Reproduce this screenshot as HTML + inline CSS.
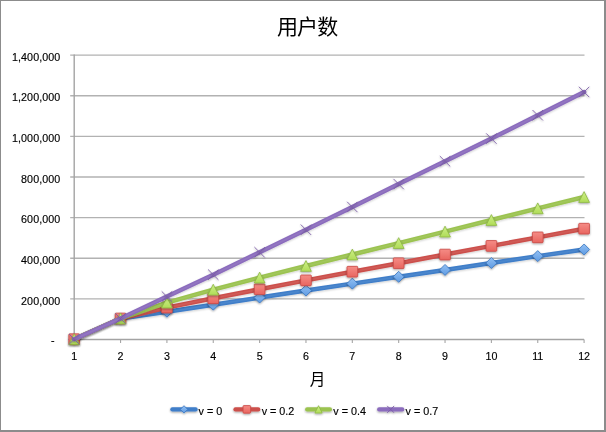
<!DOCTYPE html>
<html lang="zh"><head><meta charset="utf-8"><title>用户数</title>
<style>
html,body{margin:0;padding:0;background:#fff;}
body{width:606px;height:432px;overflow:hidden;}
svg{display:block}
text{font-family:"Liberation Sans", "Noto Sans CJK SC", sans-serif;fill:#000}
.ax{font-size:10.7px;stroke:#000;stroke-width:0.15px}
.lg{font-size:10.75px;stroke:#000;stroke-width:0.15px}
</style></head><body>
<svg width="606" height="432" viewBox="0 0 606 432">
<defs>
<filter id="sh" x="-40%" y="-40%" width="180%" height="200%"><feGaussianBlur in="SourceAlpha" stdDeviation="1"/><feOffset dx="0" dy="1.3"/><feComponentTransfer><feFuncA type="linear" slope="0.38"/></feComponentTransfer><feMerge><feMergeNode/><feMergeNode in="SourceGraphic"/></feMerge></filter>
<filter id="shl" x="-5%" y="-5%" width="110%" height="110%"><feGaussianBlur in="SourceAlpha" stdDeviation="0.8"/><feOffset dx="0" dy="1.1"/><feComponentTransfer><feFuncA type="linear" slope="0.2"/></feComponentTransfer><feMerge><feMergeNode/><feMergeNode in="SourceGraphic"/></feMerge></filter>
<linearGradient id="g0" x1="0" y1="0" x2="0" y2="1"><stop offset="0" stop-color="#92c0f4"/><stop offset="1" stop-color="#5f9be2"/></linearGradient>
<linearGradient id="g1" x1="0" y1="0" x2="0" y2="1"><stop offset="0" stop-color="#f58c86"/><stop offset="1" stop-color="#e8655f"/></linearGradient>
<linearGradient id="g2" x1="0" y1="0" x2="0" y2="1"><stop offset="0" stop-color="#cdef88"/><stop offset="1" stop-color="#b0dc58"/></linearGradient>
</defs>
<rect x="0" y="0" width="606" height="432" fill="#fff"/>

<rect x="0.5" y="0.5" width="605" height="431" fill="none" stroke="#8c8c8c" stroke-width="1"/>
<path d="M605 0V431H0" fill="none" stroke="#8c8c8c" stroke-width="2"/>
<text x="307.1" y="34.2" text-anchor="middle" style="font-size:21px;letter-spacing:-0.9px">用户数</text>
<line x1="70.2" y1="298.87" x2="584.5" y2="298.87" stroke="#b2b2b2" stroke-width="1.45"/>
<line x1="70.2" y1="258.24" x2="584.5" y2="258.24" stroke="#b2b2b2" stroke-width="1.45"/>
<line x1="70.2" y1="217.61" x2="584.5" y2="217.61" stroke="#b2b2b2" stroke-width="1.45"/>
<line x1="70.2" y1="176.99" x2="584.5" y2="176.99" stroke="#b2b2b2" stroke-width="1.45"/>
<line x1="70.2" y1="136.36" x2="584.5" y2="136.36" stroke="#b2b2b2" stroke-width="1.45"/>
<line x1="70.2" y1="95.73" x2="584.5" y2="95.73" stroke="#b2b2b2" stroke-width="1.45"/>
<line x1="70.2" y1="55.10" x2="584.5" y2="55.10" stroke="#b2b2b2" stroke-width="1.45"/>
<line x1="74.2" y1="54.6" x2="74.2" y2="340.0" stroke="#a3a3a3" stroke-width="1.4"/>
<line x1="70.2" y1="339.5" x2="584.1" y2="339.5" stroke="#a3a3a3" stroke-width="1.4"/>
<line x1="74.20" y1="339.5" x2="74.20" y2="343.1" stroke="#a6a6a6" stroke-width="1.1"/>
<text class="ax" x="74.20" y="359.8" text-anchor="middle">1</text>
<line x1="120.55" y1="339.5" x2="120.55" y2="343.1" stroke="#a6a6a6" stroke-width="1.1"/>
<text class="ax" x="120.55" y="359.8" text-anchor="middle">2</text>
<line x1="166.91" y1="339.5" x2="166.91" y2="343.1" stroke="#a6a6a6" stroke-width="1.1"/>
<text class="ax" x="166.91" y="359.8" text-anchor="middle">3</text>
<line x1="213.26" y1="339.5" x2="213.26" y2="343.1" stroke="#a6a6a6" stroke-width="1.1"/>
<text class="ax" x="213.26" y="359.8" text-anchor="middle">4</text>
<line x1="259.62" y1="339.5" x2="259.62" y2="343.1" stroke="#a6a6a6" stroke-width="1.1"/>
<text class="ax" x="259.62" y="359.8" text-anchor="middle">5</text>
<line x1="305.97" y1="339.5" x2="305.97" y2="343.1" stroke="#a6a6a6" stroke-width="1.1"/>
<text class="ax" x="305.97" y="359.8" text-anchor="middle">6</text>
<line x1="352.33" y1="339.5" x2="352.33" y2="343.1" stroke="#a6a6a6" stroke-width="1.1"/>
<text class="ax" x="352.33" y="359.8" text-anchor="middle">7</text>
<line x1="398.68" y1="339.5" x2="398.68" y2="343.1" stroke="#a6a6a6" stroke-width="1.1"/>
<text class="ax" x="398.68" y="359.8" text-anchor="middle">8</text>
<line x1="445.04" y1="339.5" x2="445.04" y2="343.1" stroke="#a6a6a6" stroke-width="1.1"/>
<text class="ax" x="445.04" y="359.8" text-anchor="middle">9</text>
<line x1="491.39" y1="339.5" x2="491.39" y2="343.1" stroke="#a6a6a6" stroke-width="1.1"/>
<text class="ax" x="491.39" y="359.8" text-anchor="middle">10</text>
<line x1="537.75" y1="339.5" x2="537.75" y2="343.1" stroke="#a6a6a6" stroke-width="1.1"/>
<text class="ax" x="537.75" y="359.8" text-anchor="middle">11</text>
<line x1="584.10" y1="339.5" x2="584.10" y2="343.1" stroke="#a6a6a6" stroke-width="1.1"/>
<text class="ax" x="584.10" y="359.8" text-anchor="middle">12</text>
<text class="ax" x="54.6" y="344.1" text-anchor="end">-</text>
<text class="ax" x="60.4" y="304.5" text-anchor="end" style="letter-spacing:0.1px">200,000</text>
<text class="ax" x="60.4" y="263.8" text-anchor="end" style="letter-spacing:0.1px">400,000</text>
<text class="ax" x="60.4" y="223.2" text-anchor="end" style="letter-spacing:0.1px">600,000</text>
<text class="ax" x="60.4" y="182.6" text-anchor="end" style="letter-spacing:0.1px">800,000</text>
<text class="ax" x="60.4" y="142.0" text-anchor="end" style="letter-spacing:0.1px">1,000,000</text>
<text class="ax" x="60.4" y="101.3" text-anchor="end" style="letter-spacing:0.1px">1,200,000</text>
<text class="ax" x="60.4" y="60.7" text-anchor="end" style="letter-spacing:0.1px">1,400,000</text>
<text x="317.6" y="385.3" text-anchor="middle" style="font-size:15.6px">月</text>
<g filter="url(#shl)">
<path d="M74.20 339.20L120.55 318.49L166.91 311.68L213.26 304.67L259.62 297.56L305.97 290.55L352.33 283.64L398.68 276.84L445.04 269.93L491.39 263.02L537.75 256.11L584.10 249.50" fill="none" stroke="#3f7ec9" stroke-width="4.5" stroke-linejoin="round" stroke-linecap="round"/>
<path d="M74.20 339.20L120.55 318.49L166.91 311.68L213.26 304.67L259.62 297.56L305.97 290.55L352.33 283.64L398.68 276.84L445.04 269.93L491.39 263.02L537.75 256.11L584.10 249.50" fill="none" stroke="#fff" stroke-opacity="0.07" stroke-width="1.6" stroke-linejoin="round" stroke-linecap="round"/>
</g>
<g filter="url(#sh)">
<path d="M74.20 333.70L79.70 339.20L74.20 344.70L68.70 339.20Z" fill="url(#g0)" stroke="#3a76c0" stroke-width="0.8"/>
<path d="M120.55 312.99L126.05 318.49L120.55 323.99L115.05 318.49Z" fill="url(#g0)" stroke="#3a76c0" stroke-width="0.8"/>
<path d="M166.91 306.18L172.41 311.68L166.91 317.18L161.41 311.68Z" fill="url(#g0)" stroke="#3a76c0" stroke-width="0.8"/>
<path d="M213.26 299.17L218.76 304.67L213.26 310.17L207.76 304.67Z" fill="url(#g0)" stroke="#3a76c0" stroke-width="0.8"/>
<path d="M259.62 292.06L265.12 297.56L259.62 303.06L254.12 297.56Z" fill="url(#g0)" stroke="#3a76c0" stroke-width="0.8"/>
<path d="M305.97 285.05L311.47 290.55L305.97 296.05L300.47 290.55Z" fill="url(#g0)" stroke="#3a76c0" stroke-width="0.8"/>
<path d="M352.33 278.14L357.83 283.64L352.33 289.14L346.83 283.64Z" fill="url(#g0)" stroke="#3a76c0" stroke-width="0.8"/>
<path d="M398.68 271.34L404.18 276.84L398.68 282.34L393.18 276.84Z" fill="url(#g0)" stroke="#3a76c0" stroke-width="0.8"/>
<path d="M445.04 264.43L450.54 269.93L445.04 275.43L439.54 269.93Z" fill="url(#g0)" stroke="#3a76c0" stroke-width="0.8"/>
<path d="M491.39 257.52L496.89 263.02L491.39 268.52L485.89 263.02Z" fill="url(#g0)" stroke="#3a76c0" stroke-width="0.8"/>
<path d="M537.75 250.61L543.25 256.11L537.75 261.61L532.25 256.11Z" fill="url(#g0)" stroke="#3a76c0" stroke-width="0.8"/>
<path d="M584.10 244.00L589.60 249.50L584.10 255.00L578.60 249.50Z" fill="url(#g0)" stroke="#3a76c0" stroke-width="0.8"/>
</g>
<g filter="url(#shl)">
<path d="M74.20 339.20L120.55 318.49L166.91 307.61L213.26 298.29L259.62 289.24L305.97 280.36L352.33 271.70L398.68 263.23L445.04 254.57L491.39 245.91L537.75 237.35L584.10 228.69" fill="none" stroke="#cc4f4b" stroke-width="4.5" stroke-linejoin="round" stroke-linecap="round"/>
<path d="M74.20 339.20L120.55 318.49L166.91 307.61L213.26 298.29L259.62 289.24L305.97 280.36L352.33 271.70L398.68 263.23L445.04 254.57L491.39 245.91L537.75 237.35L584.10 228.69" fill="none" stroke="#fff" stroke-opacity="0.07" stroke-width="1.6" stroke-linejoin="round" stroke-linecap="round"/>
</g>
<g filter="url(#sh)">
<rect x="68.85" y="333.85" width="10.70" height="10.70" rx="0.8" fill="url(#g1)" stroke="#c94844" stroke-width="0.8"/>
<rect x="115.20" y="313.14" width="10.70" height="10.70" rx="0.8" fill="url(#g1)" stroke="#c94844" stroke-width="0.8"/>
<rect x="161.56" y="302.26" width="10.70" height="10.70" rx="0.8" fill="url(#g1)" stroke="#c94844" stroke-width="0.8"/>
<rect x="207.91" y="292.94" width="10.70" height="10.70" rx="0.8" fill="url(#g1)" stroke="#c94844" stroke-width="0.8"/>
<rect x="254.27" y="283.89" width="10.70" height="10.70" rx="0.8" fill="url(#g1)" stroke="#c94844" stroke-width="0.8"/>
<rect x="300.62" y="275.01" width="10.70" height="10.70" rx="0.8" fill="url(#g1)" stroke="#c94844" stroke-width="0.8"/>
<rect x="346.98" y="266.35" width="10.70" height="10.70" rx="0.8" fill="url(#g1)" stroke="#c94844" stroke-width="0.8"/>
<rect x="393.33" y="257.88" width="10.70" height="10.70" rx="0.8" fill="url(#g1)" stroke="#c94844" stroke-width="0.8"/>
<rect x="439.69" y="249.22" width="10.70" height="10.70" rx="0.8" fill="url(#g1)" stroke="#c94844" stroke-width="0.8"/>
<rect x="486.04" y="240.56" width="10.70" height="10.70" rx="0.8" fill="url(#g1)" stroke="#c94844" stroke-width="0.8"/>
<rect x="532.40" y="232.00" width="10.70" height="10.70" rx="0.8" fill="url(#g1)" stroke="#c94844" stroke-width="0.8"/>
<rect x="578.75" y="223.34" width="10.70" height="10.70" rx="0.8" fill="url(#g1)" stroke="#c94844" stroke-width="0.8"/>
</g>
<g filter="url(#shl)">
<path d="M74.20 339.20L120.55 318.49L166.91 302.55L213.26 289.69L259.62 277.56L305.97 265.95L352.33 254.49L398.68 243.07L445.04 231.57L491.39 219.99L537.75 208.31L584.10 197.02" fill="none" stroke="#9bc350" stroke-width="4.5" stroke-linejoin="round" stroke-linecap="round"/>
<path d="M74.20 339.20L120.55 318.49L166.91 302.55L213.26 289.69L259.62 277.56L305.97 265.95L352.33 254.49L398.68 243.07L445.04 231.57L491.39 219.99L537.75 208.31L584.10 197.02" fill="none" stroke="#fff" stroke-opacity="0.07" stroke-width="1.6" stroke-linejoin="round" stroke-linecap="round"/>
</g>
<g filter="url(#sh)">
<path d="M74.20 333.80L79.60 344.60L68.80 344.60Z" fill="url(#g2)" stroke="#8db844" stroke-width="0.8"/>
<path d="M120.55 313.09L125.95 323.89L115.15 323.89Z" fill="url(#g2)" stroke="#8db844" stroke-width="0.8"/>
<path d="M166.91 297.15L172.31 307.95L161.51 307.95Z" fill="url(#g2)" stroke="#8db844" stroke-width="0.8"/>
<path d="M213.26 284.29L218.66 295.09L207.86 295.09Z" fill="url(#g2)" stroke="#8db844" stroke-width="0.8"/>
<path d="M259.62 272.16L265.02 282.96L254.22 282.96Z" fill="url(#g2)" stroke="#8db844" stroke-width="0.8"/>
<path d="M305.97 260.55L311.37 271.35L300.57 271.35Z" fill="url(#g2)" stroke="#8db844" stroke-width="0.8"/>
<path d="M352.33 249.09L357.73 259.89L346.93 259.89Z" fill="url(#g2)" stroke="#8db844" stroke-width="0.8"/>
<path d="M398.68 237.67L404.08 248.47L393.28 248.47Z" fill="url(#g2)" stroke="#8db844" stroke-width="0.8"/>
<path d="M445.04 226.17L450.44 236.97L439.64 236.97Z" fill="url(#g2)" stroke="#8db844" stroke-width="0.8"/>
<path d="M491.39 214.59L496.79 225.39L485.99 225.39Z" fill="url(#g2)" stroke="#8db844" stroke-width="0.8"/>
<path d="M537.75 202.91L543.15 213.71L532.35 213.71Z" fill="url(#g2)" stroke="#8db844" stroke-width="0.8"/>
<path d="M584.10 191.62L589.50 202.42L578.70 202.42Z" fill="url(#g2)" stroke="#8db844" stroke-width="0.8"/>
</g>
<g filter="url(#shl)">
<path d="M74.20 339.20L120.55 318.49L166.91 296.56L213.26 274.69L259.62 252.27L305.97 229.74L352.33 206.99L398.68 184.09L445.04 161.28L491.39 138.59L537.75 115.26L584.10 91.98" fill="none" stroke="#8b6cbd" stroke-width="4.5" stroke-linejoin="round" stroke-linecap="round"/>
<path d="M74.20 339.20L120.55 318.49L166.91 296.56L213.26 274.69L259.62 252.27L305.97 229.74L352.33 206.99L398.68 184.09L445.04 161.28L491.39 138.59L537.75 115.26L584.10 91.98" fill="none" stroke="#fff" stroke-opacity="0.07" stroke-width="1.6" stroke-linejoin="round" stroke-linecap="round"/>
</g>
<g filter="url(#sh)">
<path d="M69.00 334.00L79.40 344.40M79.40 334.00L69.00 344.40" fill="none" stroke="#7a5ca6" stroke-width="0.9"/>
<path d="M115.35 313.29L125.75 323.69M125.75 313.29L115.35 323.69" fill="none" stroke="#7a5ca6" stroke-width="0.9"/>
<path d="M161.71 291.36L172.11 301.76M172.11 291.36L161.71 301.76" fill="none" stroke="#7a5ca6" stroke-width="0.9"/>
<path d="M208.06 269.49L218.46 279.89M218.46 269.49L208.06 279.89" fill="none" stroke="#7a5ca6" stroke-width="0.9"/>
<path d="M254.42 247.07L264.82 257.47M264.82 247.07L254.42 257.47" fill="none" stroke="#7a5ca6" stroke-width="0.9"/>
<path d="M300.77 224.54L311.17 234.94M311.17 224.54L300.77 234.94" fill="none" stroke="#7a5ca6" stroke-width="0.9"/>
<path d="M347.13 201.79L357.53 212.19M357.53 201.79L347.13 212.19" fill="none" stroke="#7a5ca6" stroke-width="0.9"/>
<path d="M393.48 178.89L403.88 189.29M403.88 178.89L393.48 189.29" fill="none" stroke="#7a5ca6" stroke-width="0.9"/>
<path d="M439.84 156.08L450.24 166.48M450.24 156.08L439.84 166.48" fill="none" stroke="#7a5ca6" stroke-width="0.9"/>
<path d="M486.19 133.39L496.59 143.79M496.59 133.39L486.19 143.79" fill="none" stroke="#7a5ca6" stroke-width="0.9"/>
<path d="M532.55 110.06L542.95 120.46M542.95 110.06L532.55 120.46" fill="none" stroke="#7a5ca6" stroke-width="0.9"/>
<path d="M578.90 86.78L589.30 97.18M589.30 86.78L578.90 97.18" fill="none" stroke="#7a5ca6" stroke-width="0.9"/>
</g>
<g filter="url(#sh)"><line x1="172.4" y1="409.4" x2="195.6" y2="409.4" stroke="#3f7ec9" stroke-width="4.3" stroke-linecap="round"/>
<path d="M184.00 405.70L187.70 409.40L184.00 413.10L180.30 409.40Z" fill="url(#g0)" stroke="#3a76c0" stroke-width="0.8"/>
</g>
<text class="lg" x="198.6" y="414.5">v = 0</text>
<g filter="url(#sh)"><line x1="235.5" y1="409.4" x2="258.2" y2="409.4" stroke="#cc4f4b" stroke-width="4.3" stroke-linecap="round"/>
<rect x="243.05" y="405.60" width="7.60" height="7.60" rx="0.8" fill="url(#g1)" stroke="#c94844" stroke-width="0.8"/>
</g>
<text class="lg" x="261.7" y="414.5">v = 0.2</text>
<g filter="url(#sh)"><line x1="307.2" y1="409.4" x2="329.9" y2="409.4" stroke="#9bc350" stroke-width="4.3" stroke-linecap="round"/>
<path d="M318.55 405.70L322.25 413.10L314.85 413.10Z" fill="url(#g2)" stroke="#8db844" stroke-width="0.8"/>
</g>
<text class="lg" x="333.3" y="414.5">v = 0.4</text>
<g filter="url(#sh)"><line x1="379.2" y1="409.4" x2="402.2" y2="409.4" stroke="#8b6cbd" stroke-width="4.3" stroke-linecap="round"/>
<path d="M387.20 405.90L394.20 412.90M394.20 405.90L387.20 412.90" fill="none" stroke="#7a5ca6" stroke-width="0.9"/>
</g>
<text class="lg" x="405.6" y="414.5">v = 0.7</text>
</svg></body></html>
